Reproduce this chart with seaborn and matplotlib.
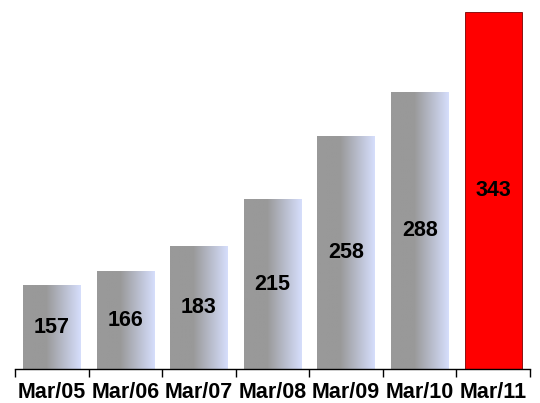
import numpy as np
import pandas as pd
import matplotlib
matplotlib.use('Agg')
import matplotlib.pyplot as plt
import seaborn as sns
from matplotlib.colors import LinearSegmentedColormap

# data
periods = ['Mar/05', 'Mar/06', 'Mar/07', 'Mar/08', 'Mar/09', 'Mar/10', 'Mar/11']
values = [157, 166, 183, 215, 258, 288, 343]

df = pd.DataFrame({'period': periods, 'value': values})

sns.set_style('white')
plt.rcParams['font.family'] = ['Liberation Sans', 'DejaVu Sans']

fig = plt.figure(figsize=(5.4, 4.03), dpi=100)
ax = fig.add_axes([15 / 540, 34 / 403, 515 / 540, 369 / 403])

bar_colors = ['#999999'] * 6 + ['#ff0000']
sns.barplot(data=df, x='period', y='value', hue='period', palette=bar_colors,
            legend=False, width=0.78, ax=ax, saturation=1)

y_base = 100

# horizontal gray -> lavender fill on the gray bars
grad = LinearSegmentedColormap.from_list(
    'bar', [(0, '#999999'), (0.4, '#999999'), (1, '#d6defc')])
ramp = np.linspace(0, 1, 256).reshape(1, -1)
for i, patch in enumerate(ax.patches):
    x0 = patch.get_x()
    w = patch.get_width()
    top = patch.get_y() + patch.get_height()
    if i < 6:
        patch.set_edgecolor('none')
        ax.imshow(ramp, cmap=grad, aspect='auto', interpolation='bilinear',
                  extent=[x0, x0 + w, y_base, top], zorder=patch.get_zorder() + 0.1)
    else:
        patch.set_edgecolor('#7a0000')
        patch.set_linewidth(0.6)
    ax.text(x0 + w / 2, (y_base + top) / 2, str(values[i]),
            ha='center', va='center', fontsize=15.5, fontweight='bold',
            color='black', zorder=5)

ax.set_xlim(-0.5, len(periods) - 0.5)
ax.set_ylim(y_base, 351)

for side in ['top', 'right', 'left']:
    ax.spines[side].set_visible(False)
ax.spines['bottom'].set_color('black')
ax.spines['bottom'].set_linewidth(1)
ax.set_yticks([])
ax.set_xlabel('')
ax.set_ylabel('')

ax.set_xticks(range(len(periods)))
ax.set_xticklabels(periods, fontsize=15.5, fontweight='bold', color='black')
ax.tick_params(axis='x', which='major', length=0, pad=9, labelcolor='black')
ax.set_xticks(np.arange(-0.5, len(periods)), minor=True)
ax.tick_params(axis='x', which='minor', length=6, width=1, color='black',
               direction='out', bottom=True)

fig.savefig('out.png', dpi=100)
